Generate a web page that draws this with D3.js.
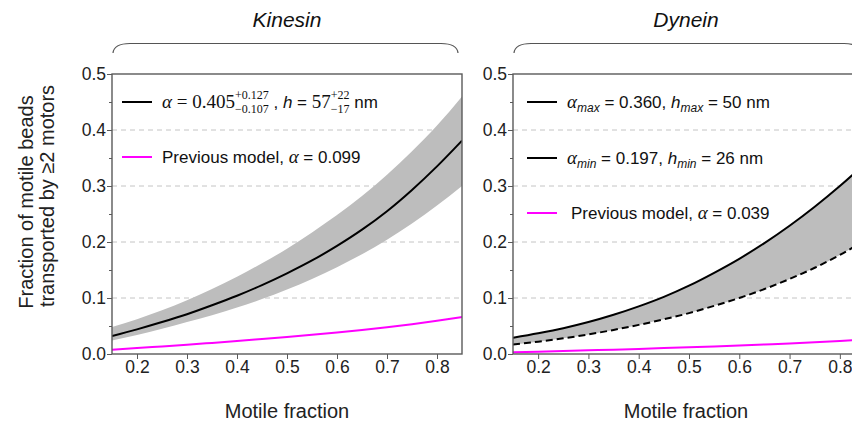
<!DOCTYPE html>
<html>
<head>
<meta charset="utf-8">
<script src="https://cdn.jsdelivr.net/npm/d3@7"></script>
<style>
  body { margin: 0; background: #fff; }
  svg { display: block; }
</style>
</head>
<body>
<svg id="chart" width="852" height="426"></svg>
<script>
// motile fraction samples shared by every curve
const motile = [0.15, 0.2, 0.25, 0.3, 0.35, 0.4, 0.45, 0.5, 0.55, 0.6, 0.65, 0.7, 0.75, 0.8, 0.85]

// Kinesin panel
const kinFit   = [0.032, 0.044, 0.057, 0.071, 0.087, 0.104, 0.123, 0.144, 0.167, 0.193, 0.222, 0.255, 0.293, 0.335, 0.381]
const kinUpper = [0.048, 0.062, 0.078, 0.096, 0.116, 0.138, 0.162, 0.188, 0.217, 0.248, 0.282, 0.320, 0.362, 0.408, 0.460]
const kinLower = [0.024, 0.034, 0.045, 0.057, 0.069, 0.083, 0.098, 0.115, 0.134, 0.155, 0.178, 0.204, 0.233, 0.265, 0.300]
const kinPrev  = [0.0078, 0.0106, 0.0136, 0.0166, 0.0198, 0.0231, 0.0267, 0.0304, 0.0343, 0.0385, 0.0430, 0.0479, 0.0533, 0.0592, 0.0659]

// Dynein panel
const dynMax  = [0.029, 0.037, 0.046, 0.057, 0.070, 0.085, 0.102, 0.122, 0.145, 0.170, 0.198, 0.229, 0.263, 0.300, 0.340]
const dynMin  = [0.017, 0.022, 0.028, 0.035, 0.043, 0.052, 0.062, 0.073, 0.086, 0.100, 0.116, 0.134, 0.154, 0.177, 0.203]
const dynPrev = [0.0031, 0.0042, 0.0053, 0.0065, 0.0078, 0.0091, 0.0105, 0.0120, 0.0135, 0.0152, 0.0170, 0.0189, 0.0210, 0.0233, 0.0259]

const xTicks = [0.2, 0.3, 0.4, 0.5, 0.6, 0.7, 0.8]
const yTicks = [0.0, 0.1, 0.2, 0.3, 0.4, 0.5]
const yMinor = [0.05, 0.15, 0.25, 0.35, 0.45]
const gridTicks = [0.1, 0.2, 0.3, 0.4]

const SANS = '"Liberation Sans", Arial, sans-serif'
const SERIF = '"Liberation Serif", "Times New Roman", serif'
const GREY = '#bdbdbd'
const MAGENTA = '#ff00ff'
const AXIS = '#5a5a5a'

const svg = d3.select('#chart')

// lays pieces of text side by side, measuring each one
function richText(g, x, y, pieces) {
    let cx = x
    pieces.forEach(function(p) {
        if (p.sup !== undefined) {
            let a = g.append('text').attr('x', cx).attr('y', y - p.up)
                .style('font-family', p.family).style('font-size', p.size + 'px').text(p.sup)
            let b = g.append('text').attr('x', cx).attr('y', y + p.down)
                .style('font-family', p.family).style('font-size', p.size + 'px').text(p.sub)
            cx += Math.max(a.node().getComputedTextLength(), b.node().getComputedTextLength())
            return
        }
        let t = g.append('text').attr('x', cx).attr('y', y + (p.dy || 0))
            .style('font-family', p.family)
            .style('font-size', p.size + 'px')
            .style('font-style', p.italic ? 'italic' : 'normal')
            .style('white-space', 'pre')
            .text(p.text)
        cx += t.node().getComputedTextLength()
    })
}

function drawPanel(opts) {
    let left = opts.left, top = 74, width = 350 * opts.scaleW, height = 280
    let x = d3.scaleLinear().domain([0.15, 0.85]).range([0, width])
    let y = d3.scaleLinear().domain([0, 0.5]).range([height, 0])

    let g = svg.append('g').attr('transform', 'translate(' + left + ',' + top + ')')

    g.append('clipPath').attr('id', opts.id + '-clip')
        .append('rect').attr('width', width).attr('height', height)

    // dashed grid
    g.selectAll('.grid').data(gridTicks).enter().append('line')
        .attr('x1', 0).attr('x2', width)
        .attr('y1', d => y(d)).attr('y2', d => y(d))
        .attr('stroke', '#c4c4c4').attr('stroke-width', 1)
        .attr('stroke-dasharray', '5,4')

    let plot = g.append('g').attr('clip-path', 'url(#' + opts.id + '-clip)')

    let rows = motile.map(function(f, i) {
        return { f: f, hi: opts.upper[i], lo: opts.lower[i] }
    })
    let area = d3.area().curve(d3.curveMonotoneX)
        .x(d => x(d.f)).y0(d => y(d.lo)).y1(d => y(d.hi))
    plot.append('path').datum(rows).attr('d', area).attr('fill', GREY)

    let line = d3.line().curve(d3.curveMonotoneX)
        .x((d, i) => x(motile[i])).y(d => y(d))

    opts.lines.forEach(function(l) {
        plot.append('path').datum(l.values)
            .attr('d', line)
            .attr('fill', 'none')
            .attr('stroke', l.color)
            .attr('stroke-width', l.width || 2)
            .attr('stroke-dasharray', l.dash || null)
    })

    // axes
    let yAxis = g.append('g')
        .call(d3.axisLeft(y).tickValues(yTicks).tickSize(5).tickSizeOuter(0).tickFormat(d3.format('.1f')))
    yAxis.select('.domain').remove()
    yAxis.selectAll('line').attr('stroke', AXIS)
    yAxis.selectAll('text').attr('x', -6).attr('fill', '#222')
        .style('font-family', SANS).style('font-size', '17.5px')

    let yMin = g.append('g')
        .call(d3.axisLeft(y).tickValues(yMinor).tickSize(3).tickSizeOuter(0).tickFormat(''))
    yMin.select('.domain').remove()
    yMin.selectAll('line').attr('stroke', AXIS)

    let xAxis = g.append('g').attr('transform', 'translate(0,' + height + ')')
        .call(d3.axisBottom(x).tickValues(xTicks).tickSize(5).tickSizeOuter(0).tickFormat(d3.format('.1f')))
    xAxis.select('.domain').remove()
    xAxis.selectAll('line').attr('stroke', AXIS)
    xAxis.selectAll('text').attr('y', 7).attr('fill', '#222')
        .style('font-family', SANS).style('font-size', '17.5px')

    g.append('rect').attr('width', width).attr('height', height)
        .attr('fill', 'none').attr('stroke', AXIS).attr('stroke-width', 1.4)

    // x label
    g.append('text').attr('x', opts.labelX - left).attr('y', 344)
        .attr('text-anchor', 'middle').attr('fill', '#222')
        .style('font-family', SANS).style('font-size', '20px')
        .text('Motile fraction')

    // title and brace
    svg.append('text').attr('x', opts.labelX).attr('y', 27)
        .attr('text-anchor', 'middle').attr('fill', '#111')
        .style('font-family', SANS).style('font-size', '21px').style('font-style', 'italic')
        .text(opts.title)

    let bx0 = left + 1, bx1 = left + width - 4
    let brace = d3.path()
    brace.moveTo(bx0, 53)
    brace.quadraticCurveTo(bx0 + 1, 43.5, bx0 + 17, 43.5)
    brace.lineTo(bx1 - 17, 43.5)
    brace.quadraticCurveTo(bx1 - 1, 43.5, bx1, 53)
    svg.append('path').attr('d', brace.toString())
        .attr('fill', 'none').attr('stroke', '#555').attr('stroke-width', 1.2)

    // legend
    let lg = g.append('g').attr('fill', '#111')
    opts.legend.forEach(function(item) {
        lg.append('line')
            .attr('x1', item.lx).attr('x2', item.lx + 30)
            .attr('y1', item.ly).attr('y2', item.ly)
            .attr('stroke', item.color).attr('stroke-width', 2)
        richText(lg, item.tx, item.ly + 6, item.pieces)
    })
}

function prevPieces(val) {
    return [
        { text: 'Previous model, ', family: SANS, size: 17 },
        { text: 'α', family: SERIF, size: 19, italic: true },
        { text: ' = ' + val, family: SANS, size: 17 }
    ]
}

drawPanel({
    id: 'kin', left: 112, scaleW: 1, labelX: 287, title: 'Kinesin',
    upper: kinUpper, lower: kinLower,
    lines: [
        { values: kinFit, color: '#000' },
        { values: kinPrev, color: MAGENTA }
    ],
    legend: [
        { lx: 10, ly: 28, tx: 50, color: '#000', pieces: [
            { text: 'α', family: SERIF, size: 19, italic: true },
            { text: ' = 0.405', family: SERIF, size: 19 },
            { sup: '+0.127', sub: '−0.107', family: SERIF, size: 12, up: 9, down: 5 },
            { text: ' , ', family: SANS, size: 17 },
            { text: 'h', family: SANS, size: 17, italic: true },
            { text: ' = ', family: SANS, size: 17 },
            { text: '57', family: SERIF, size: 19 },
            { sup: '+22', sub: '−17', family: SERIF, size: 12, up: 9, down: 5 },
            { text: ' nm', family: SANS, size: 17 }
        ] },
        { lx: 10, ly: 83, tx: 50, color: MAGENTA, pieces: prevPieces('0.099') }
    ]
})

drawPanel({
    id: 'dyn', left: 513, scaleW: 352 / 350, labelX: 686, title: 'Dynein',
    upper: dynMax, lower: dynMin,
    lines: [
        { values: dynMax, color: '#000' },
        { values: dynMin, color: '#000', dash: '7,4' },
        { values: dynPrev, color: MAGENTA }
    ],
    legend: [
        { lx: 14, ly: 28, tx: 54, color: '#000', pieces: [
            { text: 'α', family: SERIF, size: 19, italic: true },
            { text: 'max', family: SANS, size: 12, italic: true, dy: 4 },
            { text: ' = 0.360, ', family: SANS, size: 17 },
            { text: 'h', family: SANS, size: 17, italic: true },
            { text: 'max', family: SANS, size: 12, italic: true, dy: 4 },
            { text: ' = 50 nm', family: SANS, size: 17 }
        ] },
        { lx: 14, ly: 84, tx: 54, color: '#000', pieces: [
            { text: 'α', family: SERIF, size: 19, italic: true },
            { text: 'min', family: SANS, size: 12, italic: true, dy: 4 },
            { text: ' = 0.197, ', family: SANS, size: 17 },
            { text: 'h', family: SANS, size: 17, italic: true },
            { text: 'min', family: SANS, size: 12, italic: true, dy: 4 },
            { text: ' = 26 nm', family: SANS, size: 17 }
        ] },
        { lx: 14, ly: 139, tx: 58, color: MAGENTA, pieces: prevPieces('0.039') }
    ]
})

// shared y label
let yl = svg.append('g').attr('fill', '#222')
    .style('font-family', SANS).style('font-size', '20px')
yl.append('text').attr('transform', 'translate(33,202) rotate(-90)')
    .attr('text-anchor', 'middle').text('Fraction of motile beads')
yl.append('text').attr('transform', 'translate(54,196) rotate(-90)')
    .attr('text-anchor', 'middle').text('transported by ≥2 motors')
</script>
</body>
</html>
